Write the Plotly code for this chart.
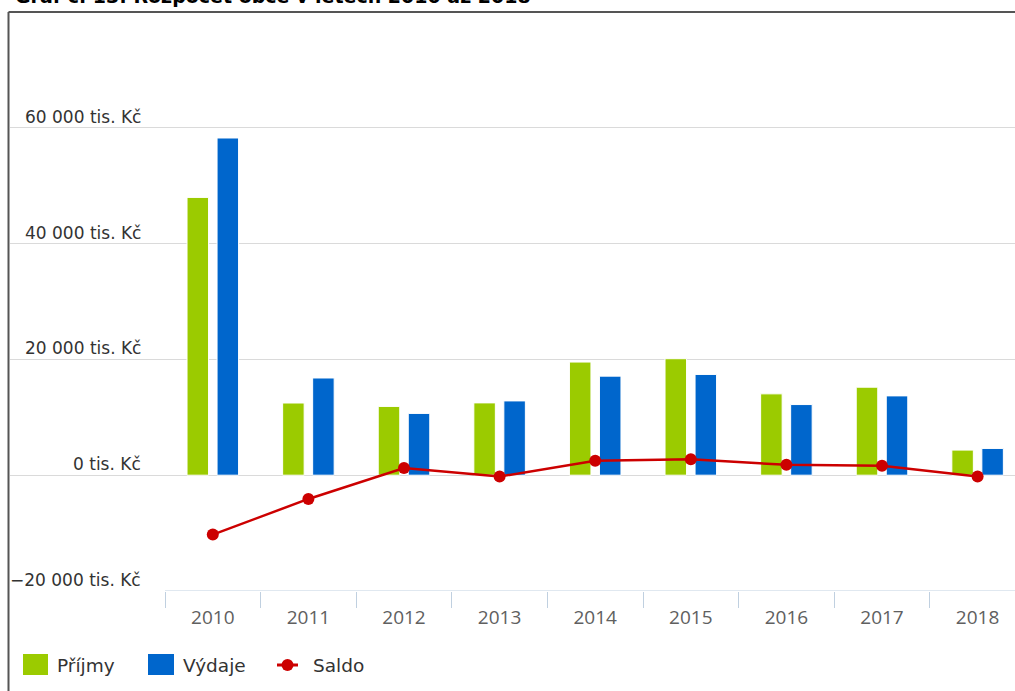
import plotly.graph_objects as go

# ---- data ----
years = ["2010", "2011", "2012", "2013", "2014", "2015", "2016", "2017", "2018"]
prijmy = [47980, 12470, 11880, 12490, 19540, 20120, 14050, 15200, 4340]
vydaje = [58240, 16790, 10670, 12830, 17110, 17400, 12200, 13700, 4620]
saldo = [-10260, -4100, 1240, -230, 2490, 2770, 1790, 1620, -230]
y_ticks = [-20000, 0, 20000, 40000, 60000]
y_tick_labels = ["−20 000 tis. Kč", "0 tis. Kč", "20 000 tis. Kč",
                 "40 000 tis. Kč", "60 000 tis. Kč"]
series_names = ["Příjmy", "Výdaje", "Saldo"]
title_text = "Graf č. 13: Rozpočet obce v letech 2010 až 2018"

GREEN = "#9bcb00"
BLUE = "#0066cc"
RED = "#cc0000"

W, H = 1015, 691
ML, MR, MT, MB = 10, 0, 12, 100
PW = W - ML - MR
PH = H - MT - MB


def px(x):
    return (x - ML) / PW


def py(y):
    return (H - MB - y) / PH


xs = list(range(len(years)))

fig = go.Figure()
fig.add_trace(go.Bar(x=xs, y=prijmy, name=series_names[0],
                     marker=dict(color=GREEN, line=dict(color="white", width=1))))
fig.add_trace(go.Bar(x=xs, y=vydaje, name=series_names[1],
                     marker=dict(color=BLUE, line=dict(color="white", width=1))))
fig.add_trace(go.Scatter(x=xs, y=saldo, name=series_names[2], mode="lines+markers",
                         line=dict(color=RED, width=2.5),
                         marker=dict(color=RED, size=12)))

cat_px = 95.6
x_left = -0.5 - (165 - ML) / cat_px
x_right = x_left + PW / cat_px

shapes = [
    # x axis line (light blue) under categories
    dict(type="line", xref="x", yref="y", x0=-0.5, x1=x_right + 1,
         y0=y_ticks[0], y1=y_ticks[0], line=dict(color="#c0d0e0", width=1),
         layer="above"),
    # outer frame
    dict(type="line", xref="paper", yref="paper", x0=px(8.5), x1=px(8.5),
         y0=py(H + 5), y1=py(12), line=dict(color="#555555", width=2)),
    dict(type="line", xref="paper", yref="paper", x0=px(8.5), x1=px(W + 5),
         y0=py(12), y1=py(12), line=dict(color="#555555", width=2)),
    # legend swatches
    dict(type="rect", xref="paper", yref="paper", x0=px(23), x1=px(48),
         y0=py(675), y1=py(654), fillcolor=GREEN, line=dict(width=0)),
    dict(type="rect", xref="paper", yref="paper", x0=px(148), x1=px(174),
         y0=py(675), y1=py(654), fillcolor=BLUE, line=dict(width=0)),
    dict(type="line", xref="paper", yref="paper", x0=px(277), x1=px(298),
         y0=py(665), y1=py(665), line=dict(color=RED, width=3)),
    dict(type="circle", xref="paper", yref="paper", x0=px(281.5), x1=px(293.5),
         y0=py(671), y1=py(659), fillcolor=RED, line=dict(width=0)),
]

annotations = []
for v, t in zip(y_ticks, y_tick_labels):
    annotations.append(dict(text=t, xref="paper", yref="y", x=px(143), y=v,
                            xanchor="right", yanchor="middle", yshift=11,
                            showarrow=False,
                            font=dict(family="DejaVu Sans", size=17, color="#333333")))
for xpos, name in zip([55, 181, 311], series_names):
    annotations.append(dict(text=name, xref="paper", yref="paper", x=px(xpos),
                            y=py(665), xanchor="left", yanchor="middle",
                            showarrow=False,
                            font=dict(family="DejaVu Sans", size=18.5, color="#333333")))
annotations.append(dict(text="<b>" + title_text + "</b>", xref="paper", yref="paper",
                        x=px(13), y=py(-4), xanchor="left", yanchor="middle",
                        showarrow=False,
                        font=dict(family="DejaVu Sans", size=19, color="#000000")))

fig.update_layout(
    width=W, height=H,
    margin=dict(l=ML, r=MR, t=MT, b=MB, pad=0),
    paper_bgcolor="white", plot_bgcolor="white",
    barmode="group", bargap=0.372, bargroupgap=0.283,
    showlegend=False,
    shapes=shapes,
    annotations=annotations,
    xaxis=dict(range=[x_left, x_right], tickmode="array", tickvals=xs, ticktext=years,
               ticks="outside", ticklen=9, tickcolor="rgba(0,0,0,0)",
               showgrid=False, zeroline=False, showline=False,
               tickfont=dict(family="Open Sans", size=19, color="#606060"),
               minor=dict(tickmode="array", tickvals=[i - 0.5 for i in range(len(years) + 1)],
                          ticks="outside", ticklen=16, tickcolor="#c0d0e0", tickwidth=1,
                          showgrid=False)),
    yaxis=dict(range=[-20000, 80000], tickmode="array", tickvals=y_ticks,
               showticklabels=False, showgrid=True, gridcolor="#dadada", gridwidth=1,
               zeroline=False, showline=False),
)

fig.write_html("out.html", config={"displayModeBar": False},
               post_script="document.body.style.margin='0px';document.body.style.padding='0px';")
